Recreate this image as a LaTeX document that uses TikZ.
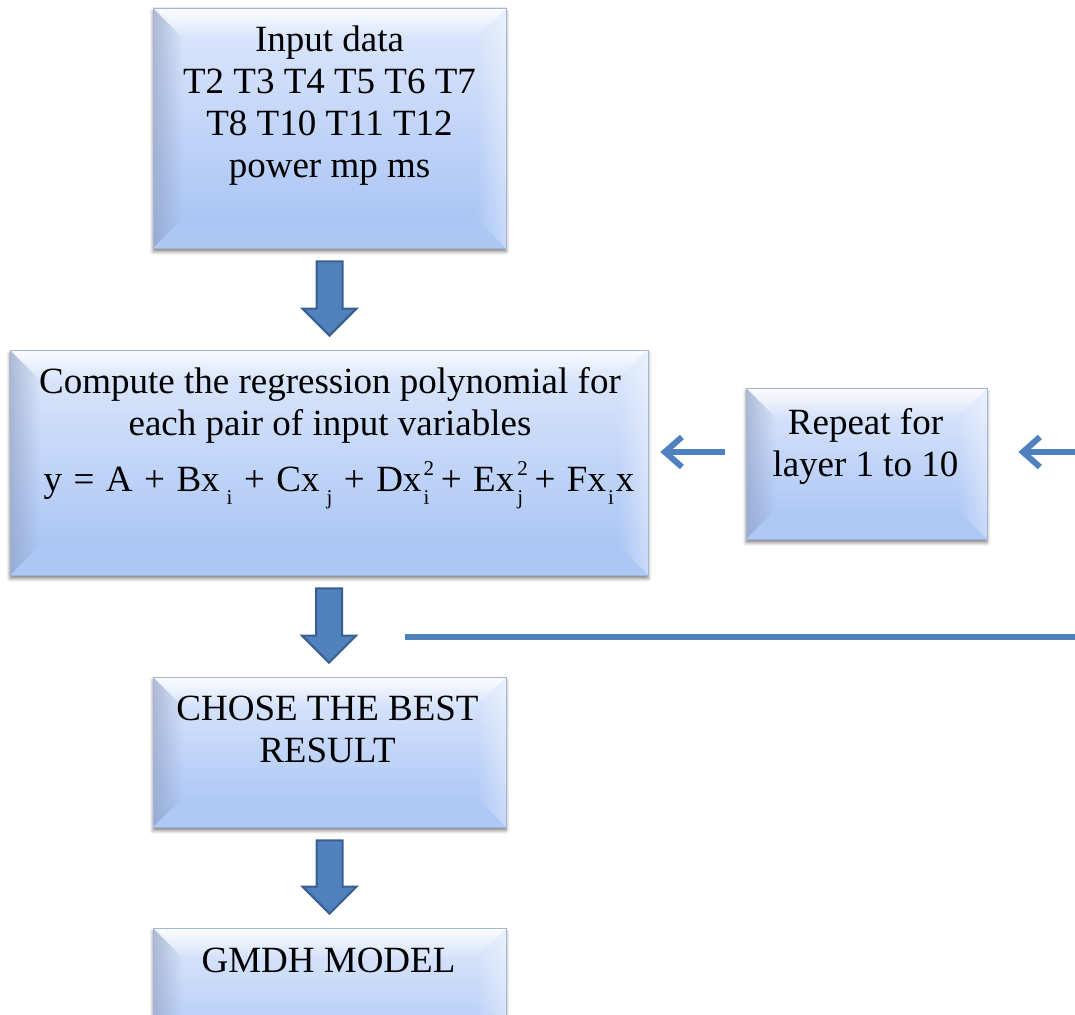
\documentclass[tikz,border=0pt]{standalone}
\usepackage{fontspec}
\setmainfont{Liberation Serif}
\usetikzlibrary{calc,arrows.meta,shadows.blur,fadings}

\definecolor{flowblue}{HTML}{4F81BD}
\definecolor{flowedge}{HTML}{3A5F8E}
\definecolor{bxTop}{HTML}{DFE9FC}
\definecolor{bxBot}{HTML}{A4C1F4}
\definecolor{bvShade}{HTML}{8E9DBE}
\definecolor{bxLine}{HTML}{A3B5D6}

% soft-edged bevel fadings: opaque at the outer edge, clear towards the face
\tikzfading[name=bvfadeE, left color=transparent!0, right color=transparent!100]
\tikzfading[name=bvfadeW, left color=transparent!100, right color=transparent!0]
\tikzfading[name=bvfadeS, top color=transparent!0, bottom color=transparent!100]
\tikzfading[name=bvfadeN, top color=transparent!100, bottom color=transparent!0]

% subscripts and stacked super/subscripts for the regression formula
\newcommand\lowidx[1]{\raisebox{-0.34em}{\fontsize{21}{21}\selectfont #1}}
\newcommand\sqidx[1]{\makebox[0pt][l]{\raisebox{0.42em}{\fontsize{21}{21}\selectfont 2}}\raisebox{-0.34em}{\fontsize{21}{21}\selectfont #1}}
\newcommand\opsp[1]{\hspace{11.5pt}#1\hspace{11.5pt}}

% thick block arrow pointing down from one box to the next
\newcommand\flowarrow[2]{%
  \draw[blockarrow] let \p1=(#1.south), \p2=(#2.north) in
    (\x1-13pt,\y1-13pt) -- (\x1+13pt,\y1-13pt) -- (\x1+13pt,\y2+41pt)
    -- (\x1+27pt,\y2+41pt) -- (\x1,\y2+14pt) -- (\x1-27pt,\y2+41pt)
    -- (\x1-13pt,\y2+41pt) -- cycle;}

\tikzset{
  bevelbox/.style={rectangle, inner sep=0pt, draw=bxLine, line width=0.7pt,
    blur shadow={shadow xshift=0pt, shadow yshift=-3.5pt, shadow blur radius=3.5pt, shadow opacity=50},
    path picture={
      \coordinate (bvSW) at (path picture bounding box.south west);
      \coordinate (bvNE) at (path picture bounding box.north east);
      \coordinate (bvNW) at (path picture bounding box.north west);
      \coordinate (bvSE) at (path picture bounding box.south east);
      \coordinate (ivSW) at ([shift={(30pt,30pt)}]bvSW);
      \coordinate (ivNE) at ([shift={(-30pt,-30pt)}]bvNE);
      \coordinate (ivNW) at ([shift={(30pt,-30pt)}]bvNW);
      \coordinate (ivSE) at ([shift={(-30pt,30pt)}]bvSE);
      \shade[top color=bxTop, bottom color=bxBot] (bvSW) rectangle (bvNE);
      \fill[white, fill opacity=0.85, path fading=bvfadeS] (bvNW) -- (ivNW) -- (ivNE) -- (bvNE) -- cycle;
      \fill[bvShade, fill opacity=0.6, path fading=bvfadeE] (bvSW) -- (ivSW) -- (ivNW) -- (bvNW) -- cycle;
      \fill[white, fill opacity=0.4, path fading=bvfadeW] (bvSE) -- (ivSE) -- (ivNE) -- (bvNE) -- cycle;
      \fill[white, fill opacity=0.12, path fading=bvfadeN] (bvSW) -- (ivSW) -- (ivSE) -- (bvSE) -- cycle;
    }},
  boxtext/.style={inner sep=0pt, align=center, font=\fontsize{37}{42}\selectfont},
  blockarrow/.style={fill=flowblue, draw=flowedge, line width=2pt, line join=miter},
  feedback/.style={draw=flowblue, line width=6pt, -{Straight Barb[length=17pt,width=30pt]}},
  feedline/.style={draw=flowblue, line width=5.5pt}
}

\begin{document}
\begin{tikzpicture}[x=1pt,y=-1pt]
\useasboundingbox (0,0) rectangle (1075,1014);
\clip (0,0) rectangle (1075,1014);

% boxes
\node[bevelbox, minimum width=353pt, minimum height=240pt] (in) at (329.5,128) {};
\node[bevelbox, minimum width=638pt, minimum height=225pt] (comp) at (329,462.5) {};
\node[bevelbox, minimum width=241pt, minimum height=151pt] (rep) at (866.5,463.5) {};
\node[bevelbox, minimum width=353pt, minimum height=150pt] (best) at (329.5,752) {};
\node[bevelbox, minimum width=353pt, minimum height=150pt] (model) at (329.5,1003) {};

% box texts
\node[boxtext] (in-t) at (329.5,106) {Input data\\T2 T3 T4 T5 T6 T7\\T8 T10 T11 T12\\power mp ms};
\node[boxtext] (comp-t) at (330,438) {Compute the regression polynomial for\\each pair of input variables\\[14pt]
  \hspace*{18pt}y\opsp{=}A\opsp{+}Bx\hspace{7pt}\lowidx{i}\opsp{+}Cx\hspace{7pt}\lowidx{j}\opsp{+}Dx\hspace{2pt}\sqidx{i}\opsp{+}Ex\hspace{3pt}\sqidx{j}\opsp{+}Fx\hspace{2pt}\lowidx{i}\hspace{2pt}x};
\node[boxtext] (rep-t) at (865.5,446.5) {Repeat for\\layer 1 to 10};
\node[boxtext] (best-t) at (327.5,729) {CHOSE THE BEST\\RESULT};
\node[boxtext] (model-t) at (328.5,960) {GMDH MODEL};

% main flow
\flowarrow{in}{comp}
\flowarrow{comp}{best}
\flowarrow{best}{model}

% repetition loop
\coordinate (loopin) at (1080,452);
\coordinate (loopout) at (405,637);
\coordinate (loopend) at (1080,637);
\coordinate (repgap) at ([xshift=-21pt,yshift=11.5pt]rep.west);
\coordinate (compgap) at ([xshift=12pt]comp.east);
\coordinate (repback) at ([xshift=31pt]rep.east);
\draw[feedback] (repgap) -- (repgap -| compgap);
\draw[feedback] (loopin) -- (loopin -| repback);
\draw[feedline] (loopout) -- (loopend);
\end{tikzpicture}
\end{document}
